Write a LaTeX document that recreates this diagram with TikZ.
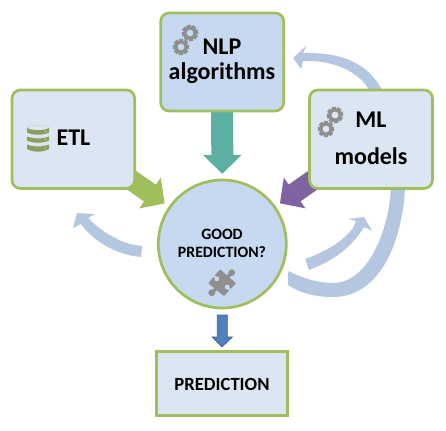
\documentclass[tikz,border=0pt]{standalone}
\usepackage{fontspec}
\setmainfont{Carlito}
\usetikzlibrary{arrows.meta,calc,backgrounds}
\definecolor{boxgreen}{HTML}{9FBE5C}
\definecolor{palefill}{HTML}{DCE6F2}
\definecolor{bluefill}{HTML}{C6D9F1}
\definecolor{bandblue}{HTML}{B4C6E0}
\definecolor{tealarrow}{HTML}{5CAFA3}
\definecolor{purplearrow}{HTML}{8064A2}
\definecolor{iconsgrey}{HTML}{8F8F8F}
\definecolor{dbgreen}{HTML}{8C9E5E}
\definecolor{downfill}{HTML}{4F81BD}
\definecolor{downline}{HTML}{3A6595}
\tikzset{
  card/.style={draw=boxgreen,line width=2.7pt,rounded corners=8.5pt,inner sep=0pt,outer sep=0pt},
  bigtext/.style={font=\fontsize{24}{24}\selectfont\bfseries,anchor=base,inner sep=0pt,text=black},
  smalltext/.style={font=\fontsize{15.8}{15.8}\selectfont\bfseries,anchor=base,inner sep=0pt,text=black},
  blockarrow/.style={line width=20.5pt,shorten >=6.5pt,shorten <=-14pt},
  band/.style={fill=bandblue,draw=none},
}
\newcommand{\gearicon}[3]{%
  \begin{scope}[shift={(#1,#2)}]
    \foreach \a in {0,45,...,315}{
      \fill[iconsgrey,rotate=\a+#3] (-2,-8.2) -- (2,-8.2) -- (2.6,-4) -- (-2.6,-4) -- cycle;
    }
    \fill[iconsgrey] (0,0) circle[radius=6.6];
  \end{scope}%
}
\begin{document}
\begin{tikzpicture}[x=1pt,y=-1pt]
\useasboundingbox (0,0) rectangle (446,430);
% nodes
\node[card,fill=palefill,minimum width=122.7pt,minimum height=98.5pt] (etl) at (73.3,139.2) {};
\node[card,fill=bluefill,minimum width=123.1pt,minimum height=98pt] (nlp) at (222.2,62) {};
\node[card,fill=palefill,minimum width=123pt,minimum height=98.5pt] (ml) at (371,139.2) {};
\node[draw=boxgreen,line width=2.7pt,fill=bluefill,circle,minimum size=128pt,inner sep=0pt,outer sep=0pt] (good) at (222.3,244) {};
\node[draw=boxgreen,line width=2.7pt,fill=palefill,minimum width=131.4pt,minimum height=64pt,inner sep=0pt,outer sep=0pt] (result) at (222,383.3) {};
% labels
\node[bigtext] (etltext) at (73.5,146) {ETL};
\node[bigtext] (nlptext) at (222,55) {NLP};
\node[bigtext] (algtext) at (222,80) {algorithms};
\node[bigtext] (mltext) at (371,128) {ML};
\node[bigtext] (modelstext) at (371,165) {models};
\node[smalltext] (goodtext) at (222,239) {GOOD};
\node[smalltext] (predqtext) at (222,257) {PREDICTION?};
\node[font=\fontsize{18.6}{18.6}\selectfont\bfseries,anchor=base,inner sep=0pt] (predtext) at (222,390) {PREDICTION};
% icons
\gearicon{190}{33}{10}
\gearicon{181}{47}{0}
\fill[bluefill] (190,33) circle[radius=3.4] (181,47) circle[radius=3.4];
\gearicon{335}{115}{10}
\gearicon{326}{129}{0}
\fill[palefill] (335,115) circle[radius=3.4] (326,129) circle[radius=3.4];
% database icon
\fill[dbgreen] (27,128) arc[x radius=11,y radius=3,start angle=180,end angle=360] -- (49,128) arc[x radius=11,y radius=3,start angle=0,end angle=-180] -- cycle;
\fill[dbgreen] (27,136.5) .. controls (33,139) and (43,139) .. (49,136.5) -- (49,140.5) .. controls (43,143.5) and (33,143.5) .. (27,140.5) -- cycle;
\fill[dbgreen] (27,144.5) .. controls (33,147) and (43,147) .. (49,144.5) -- (49,149) .. controls (43,152.5) and (33,152.5) .. (27,149) -- cycle;
\fill[dbgreen] (27,128) .. controls (33,131) and (43,131) .. (49,128) -- (49,132.5) .. controls (43,135.5) and (33,135.5) .. (27,132.5) -- cycle;
\fill[palefill] (45.5,131.5) circle[radius=.7] (45.5,139.5) circle[radius=.7] (45.5,148) circle[radius=.7];
% puzzle piece
\fill[iconsgrey] (220,269.3) -- (236,283.3) -- (224,296) -- (208.3,283.3) -- cycle;
\fill[iconsgrey] (231.7,272.7) circle[radius=3.4] (211.7,292.8) circle[radius=3.4];
\draw[iconsgrey,line width=3.4pt] (231.7,272.7) -- (226,278.5) (211.7,292.8) -- (218,287);
\fill[bluefill] (227.2,287) circle[radius=2.4] (216.8,278.8) circle[radius=2.4];
\draw[bluefill,line width=2pt] (227.2,287) -- (232,292) (216.8,278.8) -- (212,274);
% connectors, behind the nodes
\begin{scope}[on background layer]
  \fill[white] (0,0) rectangle (446,430);
  \draw[blockarrow,boxgreen,-{Triangle[length=18pt,width=36.5pt]}] (etl) -- (good);
  \draw[blockarrow,purplearrow,-{Triangle[length=18pt,width=36.5pt]}] (ml) -- (good);
  \draw[tealarrow,line width=22pt,shorten >=6pt,-{Triangle[length=19pt,width=37pt]}] (nlp) -- (good);
  % ML -> NLP curved
  \coordinate (tipA) at (293,58);
  \fill[band] ($(ml.north)+(12.5,3)$) .. controls (370,65) and (345,52) .. (303,53) -- (306,46) -- (tipA) -- (301,69) -- (303,61) .. controls (335,60) and (360,72) .. ($(ml.north)+(0,3)$) -- cycle;
  % ML -> loop back to the circle
  \coordinate (tailB) at ($(good.east)+(2,27)$);
  \fill[band] ($(ml.south)+(34,-3)$) .. controls (404,230) and (385,297) .. (333,297) .. controls (315,297) and (300,293) .. (288,285) -- (tailB) .. controls (300,277) and (316,283) .. (333,283) .. controls (370,283) and (390,225) .. ($(ml.south)+(20,-3)$) -- cycle;
  % circle -> up right
  \coordinate (tailC) at ($(good.east)+(19,15)$);
  \coordinate (tipC) at (364,217);
  \fill[band] (tailC) .. controls (322,253) and (342,243) .. (353,228) -- (356,221) -- (348,219) -- (tipC) -- (372,231) -- (364,227) .. controls (350,250) and (330,262) .. (309,270) -- cycle;
  % circle -> up left
  \coordinate (tailD) at ($(good.west)+(-16,2)$);
  \coordinate (tipD) at (77,213);
  \fill[band] (tailD) .. controls (125,245) and (105,235) .. (88,218) -- (95,214) -- (tipD) -- (73,228) -- (81,224) .. controls (95,243) and (118,255) .. (141,257) -- cycle;
\end{scope}
% small blue arrow
\coordinate (bs) at (good.south);
\coordinate (bt) at (result.north);
\draw[draw=downline,fill=downfill,line width=.8pt] ($(bs)+(-5,7)$) -- ($(bs)+(5,7)$) -- ($(bs)+(5,29)$) -- ($(bs)+(10,29)$) -- ($(bt)+(0,-4.5)$) -- ($(bs)+(-10,29)$) -- ($(bs)+(-5,29)$) -- cycle;
\end{tikzpicture}
\end{document}
